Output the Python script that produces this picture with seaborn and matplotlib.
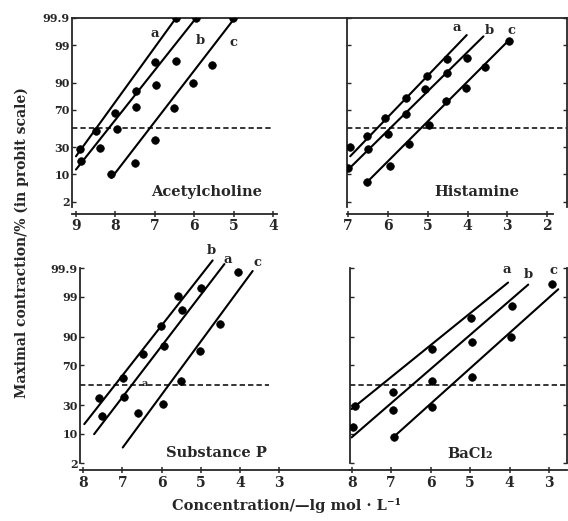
import math
from statistics import NormalDist
import numpy as np
import pandas as pd
import matplotlib
matplotlib.use("Agg")
import matplotlib.pyplot as plt
from matplotlib.ticker import NullLocator
import seaborn as sns

# ---------------- data (x: -lg mol/L, y: % of maximal contraction) ----------------
PANELS = ["Acetylcholine", "Histamine", "Substance P", "BaCl\u2082"]
SERIES = ["a", "b", "c"]

# measured points
ACH_X = {"a": [8.91, 8.48, 8.02, 7.47, 6.99, 6.45],
         "b": [8.87, 8.40, 7.95, 7.47, 6.98, 6.45, 5.95],
         "c": [8.10, 7.51, 6.99, 6.51, 6.03, 5.55, 5.02]}
ACH_Y = {"a": [27.8, 47.0, 66.3, 85.3, 96.9, 99.9],
         "b": [17.9, 29.4, 48.9, 72.9, 88.7, 97.1, 99.9],
         "c": [10.3, 16.8, 37.8, 71.3, 89.7, 96.2, 99.9]}

HIS_X = {"a": [6.95, 6.53, 6.07, 5.54, 5.02, 4.52],
         "b": [7.00, 6.49, 6.00, 5.54, 5.07, 4.52, 4.02],
         "c": [6.53, 5.96, 5.48, 4.96, 4.54, 4.04, 3.56, 2.97]}
HIS_Y = {"a": [30.0, 41.4, 61.0, 80.6, 92.9, 97.4],
         "b": [13.5, 28.4, 43.3, 65.3, 86.4, 94.1, 97.5],
         "c": [6.6, 14.5, 33.4, 53.4, 77.9, 87.3, 95.7, 99.3]}

SUB_X = {"a": [7.52, 6.97, 5.93, 5.48, 5.00],
         "b": [7.59, 6.99, 6.48, 6.02, 5.59],
         "c": [6.61, 5.97, 5.51, 5.02, 4.51, 4.05]}
SUB_Y = {"a": [20.9, 37.8, 85.0, 97.6, 99.5],
         "b": [36.6, 58.0, 79.4, 94.1, 99.08],
         "c": [23.0, 30.8, 54.5, 81.7, 94.6, 99.86]}

BA_X = {"a": [7.92, 6.95, 5.97, 4.98],
        "b": [7.96, 6.95, 5.96, 4.96, 3.95],
        "c": [6.92, 5.96, 4.96, 3.97, 2.92]}
BA_Y = {"a": [29.2, 43.0, 82.9, 96.1],
        "b": [13.2, 25.5, 53.9, 87.5, 98.2],
        "c": [8.7, 27.8, 58.7, 89.6, 99.63]}

# fitted regression lines (end points)
ACH_FIT_X = {"a": [9.00, 6.46], "b": [9.00, 5.95], "c": [8.10, 4.97]}
ACH_FIT_Y = {"a": [21.8, 99.9], "b": [12.5, 99.9], "c": [8.3, 99.9]}
HIS_FIT_X = {"a": [6.95, 4.02], "b": [7.00, 3.60], "c": [6.53, 2.97]}
HIS_FIT_Y = {"a": [21.8, 99.55], "b": [12.5, 99.5], "c": [6.6, 99.3]}
SUB_FIT_X = {"a": [7.72, 4.40], "b": [7.97, 4.70], "c": [6.99, 3.68]}
SUB_FIT_Y = {"a": [9.8, 99.93], "b": [15.2, 99.95], "c": [5.0, 99.87]}
BA_FIT_X = {"a": [8.00, 4.04], "b": [8.00, 3.53], "c": [6.95, 2.77]}
BA_FIT_Y = {"a": [26.4, 99.66], "b": [8.4, 99.6], "c": [8.4, 99.43]}

YTICKS = [2, 10, 30, 70, 90, 99, 99.9]
YTICKLABELS = ["2", "10", "30", "70", "90", "99", "99.9"]
XTICKS = {"Acetylcholine": [9, 8, 7, 6, 5, 4],
          "Histamine": [7, 6, 5, 4, 3, 2],
          "Substance P": [8, 7, 6, 5, 4, 3],
          "BaCl\u2082": [8, 7, 6, 5, 4, 3]}

# ---------------- tidy tables ----------------
pts_rows, fit_rows = [], []
for name, PX, PY, FX, FY in [(PANELS[0], ACH_X, ACH_Y, ACH_FIT_X, ACH_FIT_Y),
                             (PANELS[1], HIS_X, HIS_Y, HIS_FIT_X, HIS_FIT_Y),
                             (PANELS[2], SUB_X, SUB_Y, SUB_FIT_X, SUB_FIT_Y),
                             (PANELS[3], BA_X, BA_Y, BA_FIT_X, BA_FIT_Y)]:
    for s in SERIES:
        for xv, yv in zip(PX[s], PY[s]):
            pts_rows.append((name, s, xv, yv))
        for xv, yv in zip(FX[s], FY[s]):
            fit_rows.append((name, s, xv, yv))
pts = pd.DataFrame(pts_rows, columns=["panel", "series", "conc", "pct"])
fits = pd.DataFrame(fit_rows, columns=["panel", "series", "conc", "pct"])

# ---------------- probit scale ----------------
_nd = NormalDist()
_ppf = np.vectorize(_nd.inv_cdf, otypes=[float])
_erf = np.vectorize(math.erf, otypes=[float])


def probit(p):
    p = np.clip(np.asarray(p, dtype=float) / 100.0, 1e-9, 1 - 1e-9)
    return _ppf(p)


def inv_probit(z):
    z = np.asarray(z, dtype=float)
    return 50.0 * (1.0 + _erf(z / math.sqrt(2.0)))


# ---------------- figure ----------------
sns.set_style("ticks")
plt.rcParams["font.family"] = ["DejaVu Serif"]
plt.rcParams["font.weight"] = "bold"
plt.rcParams["axes.linewidth"] = 1.3

fig = plt.figure(figsize=(5.68, 5.21), dpi=100)

layout = {
    "Acetylcholine": dict(rect=[0.1268, 0.6027, 0.4842, 0.3628], xlim=(9.10, 2.12), ylim=(1.4, 99.9),
                          top=True, right=False, ylabels=True, xbounds=(9.10, 3.90), dash=0.73,
                          title_xy=(5.68, 3.7),
                          letters={"a": (6.99, 99.6), "b": (5.85, 99.3), "c": (5.00, 99.2)}),
    "Histamine": dict(rect=[0.6109, 0.6027, 0.3873, 0.3628], xlim=(7.03, 1.50), ylim=(1.4, 99.9),
                      top=True, right=True, ylabels=False, xbounds=(7.03, 1.85), dash=1.0,
                      title_xy=(3.77, 3.7),
                      letters={"a": (4.27, 99.77), "b": (3.45, 99.7), "c": (2.89, 99.7)}),
    "Substance P": dict(rect=[0.1408, 0.1113, 0.4754, 0.3743], xlim=(8.08, 1.20), ylim=(2.0, 99.9),
                        top=False, right=False, ylabels=True, xbounds=None, dash=0.70,
                        title_xy=(4.60, 3.6),
                        letters={"a": (4.32, 99.955), "b": (4.74, 99.98), "c": (3.55, 99.94)}),
    "BaCl\u2082": dict(rect=[0.6162, 0.1113, 0.3820, 0.3743], xlim=(8.04, 2.55), ylim=(2.0, 99.9),
                       top=False, right=True, ylabels=False, xbounds=None, dash=1.0,
                       title_xy=(5.00, 3.4),
                       letters={"a": (4.08, 99.89), "b": (3.53, 99.83), "c": (2.90, 99.88)}),
}

for name in PANELS:
    L = layout[name]
    ax = fig.add_axes(L["rect"])
    ax.set_yscale("function", functions=(probit, inv_probit))
    ax.set_facecolor("white")

    sub_fit = fits[fits.panel == name]
    sns.lineplot(data=sub_fit, x="conc", y="pct", units="series", estimator=None,
                 color="black", linewidth=1.5, ax=ax, legend=False, clip_on=False)
    sub_pts = pts[pts.panel == name]
    sns.scatterplot(data=sub_pts, x="conc", y="pct", color="black", s=30,
                    edgecolor="black", linewidth=0.5, ax=ax, legend=False, zorder=3)

    ax.axhline(50, xmin=0, xmax=L["dash"], color="black", linewidth=1.1,
               linestyle=(0, (3.5, 2)))

    ax.set_xlim(*L["xlim"])
    ax.set_ylim(*L["ylim"])
    ax.set_xticks(XTICKS[name])
    ax.set_xticklabels([str(t) for t in XTICKS[name]], fontsize=9.5, fontweight="bold")
    ax.set_yticks(YTICKS)
    if L["ylabels"]:
        ax.set_yticklabels(YTICKLABELS, fontsize=8, fontweight="bold")
    else:
        ax.set_yticklabels([])
    ax.yaxis.set_minor_locator(NullLocator())
    ax.xaxis.set_minor_locator(NullLocator())
    ax.set_xlabel("")
    ax.set_ylabel("")

    ax.spines["top"].set_visible(L["top"])
    ax.spines["right"].set_visible(L["right"])
    ax.spines["bottom"].set_position(("outward", 5))
    if L["xbounds"] is not None:
        ax.spines["bottom"].set_bounds(*L["xbounds"])
    ax.tick_params(axis="x", direction="inout", length=4, width=1.1, pad=2)
    ax.tick_params(axis="y", direction="in", length=3, width=1.0, pad=1.5,
                   right=L["right"])

    tx, ty = L["title_xy"]
    ax.text(tx, ty, name, ha="center", va="center", fontsize=10.5, fontweight="bold")
    for s, (lx, ly) in L["letters"].items():
        ax.text(lx, ly, s, ha="center", va="center", fontsize=9.5, fontweight="bold",
                clip_on=False)
    if name == "Substance P":
        ax.text(6.44, 52, "a", ha="center", va="center", fontsize=7, fontweight="bold")

fig.text(0.039, 0.535, "Maximal contraction/% (in probit scale)", rotation=90,
         ha="center", va="center", fontsize=10, fontweight="bold")
fig.text(0.505, 0.029, "Concentration/\u2014lg mol \u00b7 L\u207b\u00b9",
         ha="center", va="center", fontsize=10.5, fontweight="bold")

fig.save = None
fig.savefig("out.png", dpi=100)
